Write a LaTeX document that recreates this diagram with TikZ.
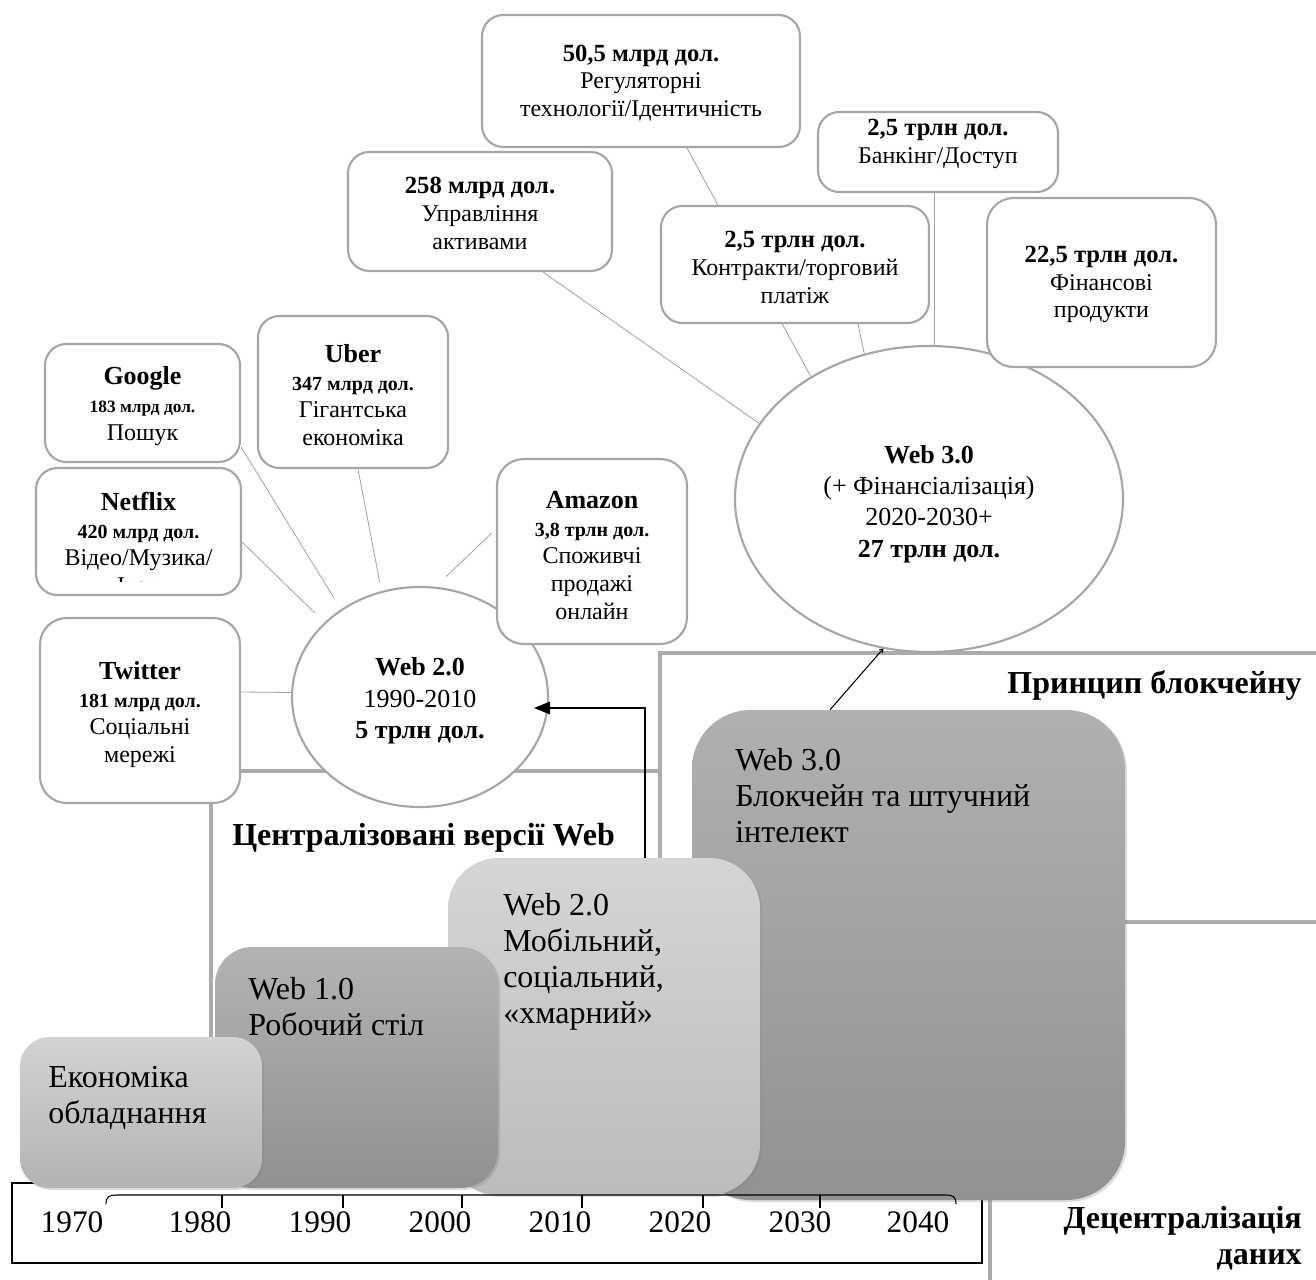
\documentclass[tikz,border=0pt]{standalone}
\usepackage{fontspec}
\setmainfont{Liberation Serif}
\usetikzlibrary{fit,shapes.geometric,arrows.meta,shadows}
\definecolor{boxgray}{HTML}{A6A6A6}
\definecolor{conngray}{HTML}{A0A0A0}
\definecolor{frgray}{HTML}{ABABAB}
\definecolor{econT}{HTML}{D3D3D3}
\definecolor{econB}{HTML}{B3B3B3}
\definecolor{wonT}{HTML}{B3B3B3}
\definecolor{wonB}{HTML}{919191}
\definecolor{wtwT}{HTML}{D5D5D5}
\definecolor{wtwB}{HTML}{BCBCBC}
\definecolor{wthT}{HTML}{B0B0B0}
\definecolor{wthB}{HTML}{929292}
\newcommand\BoxName[1]{{\fontsize{19.5}{20.75}\selectfont\bfseries #1}}
\newcommand\BoxAmt[1]{{\fontsize{15}{20.75}\selectfont\bfseries #1}}
\newcommand\BoxAmtS[1]{{\fontsize{13}{20.75}\selectfont\bfseries #1}}
\newcommand\BoxHead[1]{{\fontsize{18.5}{20.75}\selectfont\bfseries #1}}
\pgfdeclarelayer{back}
\pgfdeclarelayer{lines}
\pgfsetlayers{back,lines,main}
\begin{document}
\begin{tikzpicture}[x=0.75pt,y=-0.75pt,
  ebox/.style={draw=boxgray, line width=1.6pt, fill=white, rounded corners=16pt, inner sep=0pt},
  boxtext/.style={inner sep=0pt, align=center, font=\fontsize{18}{20.75}\selectfont},
  eell/.style={ellipse, draw=boxgray, line width=1.6pt, fill=white, inner sep=0pt},
  elltext/.style={inner sep=0pt, align=center, font=\fontsize{19.5}{23.5}\selectfont},
  conn/.style={draw=conngray, line width=0.6pt},
  frameline/.style={draw=frgray, line width=2.4pt},
  blkbox/.style={inner sep=0pt, draw=none,
    drop shadow={shadow xshift=1.5pt, shadow yshift=-1.5pt, opacity=0.28}},
  blktext/.style={anchor=north west, inner sep=0pt, align=left,
    font=\fontsize{24}{27}\selectfont},
  frlabel/.style={inner sep=0pt, font=\fontsize{24}{26.5}\selectfont\bfseries},
  yr/.style={inner sep=0pt, font=\fontsize{23.5}{26}\selectfont},
  blkline/.style={draw=black, line width=0.8pt}
]
\useasboundingbox (0,0) rectangle (1316,1280);

% frames
\begin{pgfonlayer}{back}
\draw[frameline] (211,1100) -- (211,771) -- (660,771);
\draw[frameline] (660,900) -- (660,653) -- (1318,653);
\draw[frameline] (1000,922) -- (1318,922);
\draw[frameline] (990,1000) -- (990,1282);
\end{pgfonlayer}

% frame labels
\node[frlabel, anchor=west] (lcent) at (232,838) {Централізовані версії Web};
\node[frlabel, anchor=east] (lblock) at (1302,685) {Принцип блокчейну};
\node[frlabel, anchor=east, align=right] (ldec) at (1302,1238) {Децентралізація\\даних};

% ellipses
\node[eell, minimum width=192pt, minimum height=165pt] (w2) at (420,697) {};
\node[elltext] (w2t) at ([shift={(0,4)}]w2.center)
  {\textbf{Web 2.0}\\1990-2010\\\textbf{5 трлн дол.}};
\node[eell, minimum width=291pt, minimum height=229.5pt] (w3) at (929,499) {};
\node[elltext] (w3t) at ([shift={(0,5)}]w3.center)
  {\textbf{Web 3.0}\\(+ Фінансіалізація)\\2020-2030+\\\textbf{27 трлн дол.}};

% Web 2.0 boxes
\node[ebox, rounded corners=20pt, fit={(40,618) (240,803)}] (tw) {};
\node[boxtext] (twt) at ([shift={(0,4)}]tw.center) {\BoxName{Twitter}\\\BoxAmt{181 млрд дол.}\\Соціальні\\мережі};
\node[ebox, fit={(36,468) (241,595)}] (nf) {};
\begin{scope}
\clip (36,468) rectangle (241,581);
\node[boxtext, anchor=north] (nft) at (138.5,492)
  {\BoxName{Netflix}\\\BoxAmt{420 млрд дол.}\\Відео/Музика/\\Ігри};
\end{scope}
\node[ebox, fit={(45,344) (240,462)}] (gg) {};
\node[boxtext] (ggt) at ([shift={(0,3)}]gg.center) {\BoxName{Google}\\\BoxAmtS{183 млрд дол.}\\Пошук};
\node[ebox, fit={(258,316) (448,468)}] (ub) {};
\node[boxtext] (ubt) at ([shift={(0,3)}]ub.center) {\BoxName{Uber}\\\BoxAmt{347 млрд дол.}\\Гігантська\\економіка};
\node[ebox, rounded corners=20pt, fit={(497,459) (687,644)}] (amz) {};
\node[boxtext] (amzt) at ([shift={(0,4)}]amz.center) {\BoxName{Amazon}\\\BoxAmt{3,8 трлн дол.}\\Споживчі\\продажі\\онлайн};

% Web 3.0 boxes
\node[ebox, fit={(482,15) (800,147)}] (rg) {};
\node[boxtext] (rgt) at ([shift={(0,2)}]rg.center) {\BoxHead{50,5 млрд дол.}\\Регуляторні\\технології/Ідентичність};
\node[ebox, fit={(348,152) (612,271)}] (am) {};
\node[boxtext] (amt) at ([shift={(0,2)}]am.center) {\BoxHead{258 млрд дол.}\\Управління\\активами};
\node[ebox, fit={(818,112) (1058,192)}] (bk) {};
\node[boxtext] (bkt) at ([shift={(0,-8)}]bk.center) {\BoxHead{2,5 трлн дол.}\\Банкінг/Доступ};
\node[ebox, fit={(661,206) (929,323)}] (ct) {};
\node[boxtext] (ctt) at ([shift={(0,3)}]ct.center) {\BoxHead{2,5 трлн дол.}\\Контракти/торговий\\платіж};
\node[ebox, rounded corners=20pt, fit={(987,198) (1216,367)}] (fp) {};
\node[boxtext] (fpt) at ([shift={(0,2)}]fp.center) {\BoxHead{22,5 трлн дол.}\\Фінансові\\продукти};

% connectors
\begin{pgfonlayer}{lines}
\draw[conn] (tw.east |- 0,692) -- (w2.178);
\draw[conn, shorten >=10pt] (nf.east |- 0,542) -- (w2.142);
\draw[conn, shorten >=10pt] (gg.east |- 0,447) -- (w2.132);
\draw[conn, shorten >=7pt] (ub.south -| 358,0) -- (w2.110);
\draw[conn, shorten <=4pt, shorten >=11pt] (amz.west |- 0,529) -- (w2.82);
\draw[conn] (am.south -| 543,0) -- (w3.156);
\draw[conn] (rg.south -| 687,0) -- (w3.134);
\draw[conn] (ct.south -| 858,0) -- (w3.114);
\draw[conn] (bk.south -| 934,0) -- (w3.north -| 934,0);
\end{pgfonlayer}

% timeline box
\node[draw=black, line width=1.3pt, inner sep=0pt, fit={(12,1183) (982,1263)}] (axis) {};

% staged blocks
\node[blkbox, rounded corners=44pt, top color=wthT, bottom color=wthB, fit={(692,710) (1125,1200)}] (b3) {};
\node[blkbox, rounded corners=38pt, top color=wtwT, bottom color=wtwB, fit={(448,858) (760,1195)}] (b2) {};
\node[blkbox, rounded corners=28pt, top color=wonT, bottom color=wonB, fit={(215,947) (498,1188)}] (b1) {};
\node[blkbox, rounded corners=22pt, top color=econT, bottom color=econB, fit={(20,1037) (262,1188)}] (b0) {};

\node[blktext] (t3) at (735,748) {Web 3.0\\Блокчейн та штучний\\інтелект};
\node[blktext] (t2) at (503,893) {Web 2.0\\Мобільний,\\соціальний,\\«хмарний»};
\node[blktext] (t1) at (248,977) {Web 1.0\\Робочий стіл};
\node[blktext] (t0) at (48,1066) {Економіка\\обладнання};

% bracket and ticks
\draw[line width=0.8pt] (106,1204) .. controls (106,1197) and (109,1195) .. (116,1195)
  -- (946,1195) .. controls (953,1195) and (956,1197) .. (956,1204);
\foreach \tx in {222,343,462,582,703,820} {
  \draw[line width=0.8pt] (\tx,1195) -- (\tx,1208);
}
\node[yr] (y70) at (72,1222) {1970};
\node[yr] (y80) at (200,1222) {1980};
\node[yr] (y90) at (320,1222) {1990};
\node[yr] (y00) at (440,1222) {2000};
\node[yr] (y10) at (560,1222) {2010};
\node[yr] (y20) at (680,1222) {2020};
\node[yr] (y30) at (800,1222) {2030};
\node[yr] (y40) at (918,1222) {2040};

% black arrows
\draw[blkline, -{Triangle[length=12pt,width=9.5pt]}] (b2.north -| 645,0) |- ([shift={(-15,11)}]w2.east);
\draw[blkline, -{To[length=3pt,width=4pt]}] (b3.north -| 830,0) -- (w3.253);
\end{tikzpicture}
\end{document}
